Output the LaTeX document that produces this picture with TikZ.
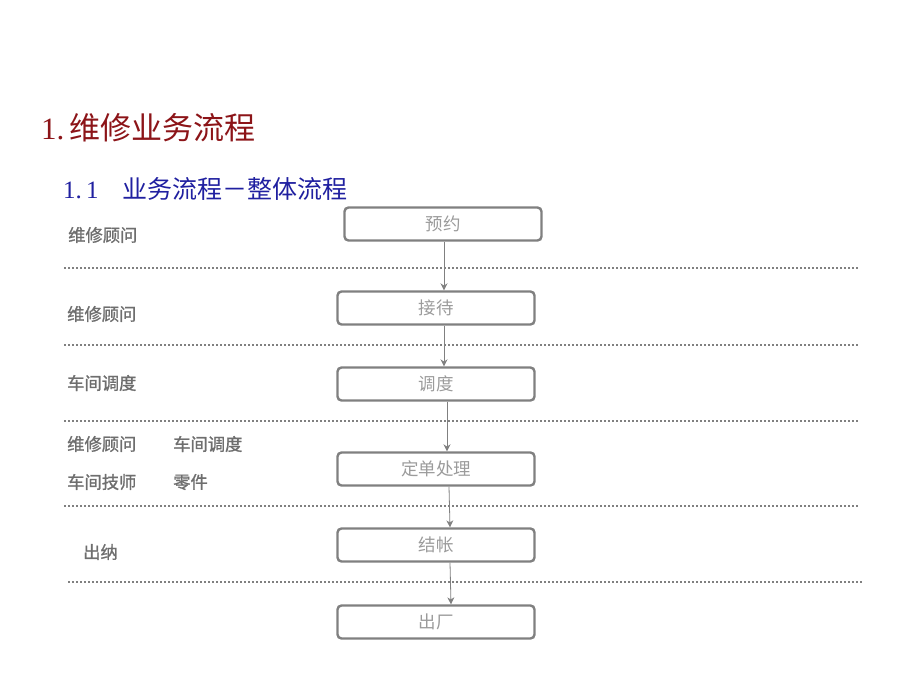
\documentclass[tikz,border=0pt]{standalone}
\usepackage{fontspec}
\usepackage{tikz}
\usetikzlibrary{arrows.meta}
\setmainfont{Liberation Serif}
\newfontfamily\cjk{Noto Sans CJK SC}
\newfontfamily\cjkb{Noto Sans CJK SC}[FakeBold=1.2]
\definecolor{titlered}{RGB}{140, 20, 24}
\definecolor{subblue}{RGB}{32, 32, 160}
\definecolor{boxgray}{RGB}{128, 128, 128}
\definecolor{textgray}{RGB}{155, 155, 155}
\definecolor{rolegray}{RGB}{110, 110, 110}

\begin{document}
\begin{tikzpicture}[x=1pt, y=-1pt,
  stepbox/.style={draw=boxgray, line width=2.4pt, rounded corners=4pt, minimum width=197pt, minimum height=33pt, inner sep=0pt, text=textgray, font=\cjk\fontsize{17.5}{20}\selectfont},
  role/.style={anchor=west, inner sep=0pt, text=rolegray, font=\cjkb\fontsize{17.3}{20}\selectfont},
  flow/.style={-{Stealth[length=7pt, width=7pt]}, draw=boxgray, line width=0.8pt},
  lane/.style={draw=boxgray, line width=1.8pt, dash pattern=on 1.8pt off 2.2pt}]
\useasboundingbox (0,0) rectangle (920,690);
% Headings
\node[anchor=west, inner sep=0pt, text=titlered, font=\fontsize{31}{34}\selectfont] (h1) at (41,128) {1.\,{\cjk 维修业务流程}};
\node[anchor=west, inner sep=0pt, text=subblue, font=\fontsize{25}{28}\selectfont] (h2) at (63,189) {1.\,1\hspace{24pt}{\cjk 业务流程－整体流程}};

% Process steps
\node[stepbox] (yy) at (443,224) {预约};
\node[stepbox] (jd) at (436,308) {接待};
\node[stepbox] (dd) at (436,384) {调度};
\node[stepbox] (dc) at (436,469) {定单处理};
\node[stepbox] (jz) at (436,545) {结帐};
\node[stepbox] (cc) at (436,622) {出厂};

% Lane separators
\draw[lane] (64,268) -- (858,268);
\draw[lane] (64,345) -- (858,345);
\draw[lane] (64,421) -- (858,421);
\draw[lane] (64,506) -- (858,506);
\draw[lane] (68,582) -- (862,582);

% Flow arrows
\draw[flow] ([xshift=1pt]yy.south) -- ([xshift=8pt]jd.north);
\draw[flow] ([xshift=8pt]jd.south) -- ([xshift=8pt]dd.north);
\draw[flow] ([xshift=11pt]dd.south) -- ([xshift=11pt]dc.north);
\draw[flow] ([xshift=13pt]dc.south) -- ([xshift=14pt]jz.north);
\draw[flow] ([xshift=14pt]jz.south) -- ([xshift=15pt]cc.north);

% Roles per lane
\node[role] (r1) at (68,235) {维修顾问};
\node[role] (r2) at (67,314) {维修顾问};
\node[role] (r3) at (67,383) {车间调度};
\node[role] (r4) at (67,444) {维修顾问};
\node[role] (r5) at (173,444) {车间调度};
\node[role] (r6) at (67,482) {车间技师};
\node[role] (r7) at (173,482) {零件};
\node[role] (r8) at (83,552) {出纳};
\end{tikzpicture}
\end{document}
